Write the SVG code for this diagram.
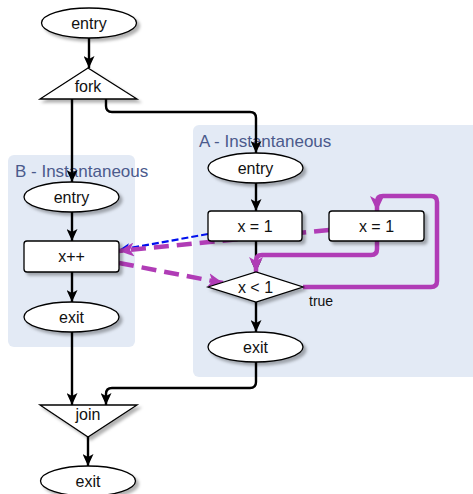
<svg xmlns="http://www.w3.org/2000/svg" width="473" height="494" viewBox="0 0 473 494">
<style>
.cl{fill:#e3eaf5;stroke:none}
.cll{font-family:"Liberation Sans",Arial,sans-serif;font-size:17px;fill:#4b5a8c}
.n{fill:#fff;stroke:#000;stroke-width:1.3;filter:url(#sh)}
.t{font-family:"Liberation Sans",Arial,sans-serif;font-size:16px;fill:#111;text-anchor:middle}
.e{fill:none;stroke:#000;stroke-width:2.4;marker-end:url(#ab)}
.m{fill:none;stroke:#b03cb6;stroke-width:4.5;marker-end:url(#am)}
.md{fill:none;stroke:#b03cb6;stroke-width:4.5;stroke-dasharray:15 8;marker-end:url(#am)}
.b{fill:none;stroke:#0010ee;stroke-width:2.2;stroke-dasharray:7 3;marker-end:url(#abl)}
</style>
<defs>
<filter id="sh" x="-20%" y="-20%" width="150%" height="160%">
<feDropShadow dx="3" dy="3" stdDeviation="1.5" flood-color="#000" flood-opacity="0.3"/>
</filter>
<marker id="ab" markerUnits="userSpaceOnUse" markerWidth="13" markerHeight="11" refX="12" refY="5.5" orient="auto">
<path d="M0,0 L12,5.5 L0,11 L3,5.5 z" fill="#000"/>
</marker>
<marker id="abl" markerUnits="userSpaceOnUse" markerWidth="12" markerHeight="10" refX="11" refY="5" orient="auto">
<path d="M0,0 L11,5 L0,10 L3,5 z" fill="#0010ee"/>
</marker>
<marker id="am" markerUnits="userSpaceOnUse" markerWidth="16" markerHeight="14" refX="15" refY="7" orient="auto">
<path d="M0,0 L15,7 L0,14 L4,7 z" fill="#b03cb6"/>
</marker>
</defs>

<g id="clusterA">
<rect class="cl" x="193" y="125" width="290" height="252" rx="6"/>
<text class="cll" x="199" y="147">A - Instantaneous</text>
</g>
<g id="clusterB">
<rect class="cl" x="8" y="155" width="127" height="192" rx="6"/>
<text class="cll" x="15" y="177">B - Instantaneous</text>
</g>

<g id="connectors">
<path class="e" d="M89,38 V68"/>
<path class="e" d="M72,99 V182"/>
<path class="e" d="M106,99 V106 Q106,112 112,112 H250 Q256,112 256,118 V153"/>
<path class="e" d="M72,212 V241"/>
<path class="e" d="M72,272 V302"/>
<path class="e" d="M72,332 V405"/>
<path class="e" d="M256,183 V211"/>
<path class="e" d="M256,241 V272"/>
<path class="e" d="M256,302 V332"/>
<path class="e" d="M256,362 V382 Q256,388 250,388 H112 Q106,388 106,394 V405"/>
<path class="e" d="M88,437 V466"/>
<path class="b" d="M208,234 L119,250"/>
<path class="md" d="M329,230 L119,251"/>
<path class="md" d="M119,263 L223,283"/>
<path class="m" d="M377,241 V249 Q377,255 371,255 H262 Q256,255 256,261 V272"/>
<path class="m" d="M303,287 H431 Q437,287 437,281 V202 Q437,196 431,196 H383 Q377,196 377,202 V211"/>
</g>

<g id="entry">
<ellipse class="n" cx="89" cy="23" rx="47.5" ry="15"/>
<text class="t" x="89" y="28.5">entry</text>
</g>
<g id="fork">
<polygon class="n" points="88,68 40,99 137,99"/>
<text class="t" x="88" y="92">fork</text>
</g>
<g id="A_entry">
<ellipse class="n" cx="255.5" cy="168" rx="47.5" ry="15"/>
<text class="t" x="255.5" y="173.5">entry</text>
</g>
<g id="A_x1">
<rect class="n" x="208" y="211" width="94" height="30" rx="3"/>
<text class="t" x="255" y="231.5">x = 1</text>
</g>
<g id="A_x1b">
<rect class="n" x="329" y="211" width="95" height="30" rx="3"/>
<text class="t" x="376.5" y="231.5">x = 1</text>
</g>
<g id="A_cond">
<polygon class="n" points="208,287 256,272 303,287 256,302"/>
<text class="t" x="255.5" y="292.5">x &lt; 1</text>
</g>
<text x="309" y="306" font-family="Liberation Sans, Arial, sans-serif" font-size="14" fill="#111">true</text>
<g id="A_exit">
<ellipse class="n" cx="255.5" cy="347" rx="47.5" ry="15"/>
<text class="t" x="255.5" y="352.5">exit</text>
</g>
<g id="B_entry">
<ellipse class="n" cx="71.5" cy="197" rx="47.5" ry="15"/>
<text class="t" x="71.5" y="202.5">entry</text>
</g>
<g id="B_xpp">
<rect class="n" x="24" y="241" width="95" height="31" rx="3"/>
<text class="t" x="71.5" y="262">x++</text>
</g>
<g id="B_exit">
<ellipse class="n" cx="71.5" cy="317" rx="47.5" ry="15"/>
<text class="t" x="71.5" y="322.5">exit</text>
</g>
<g id="join">
<polygon class="n" points="40,405 137,405 88,437"/>
<text class="t" x="88" y="420">join</text>
</g>
<g id="exit">
<ellipse class="n" cx="88" cy="481" rx="47.5" ry="15"/>
<text class="t" x="88" y="486.5">exit</text>
</g>
</svg>
